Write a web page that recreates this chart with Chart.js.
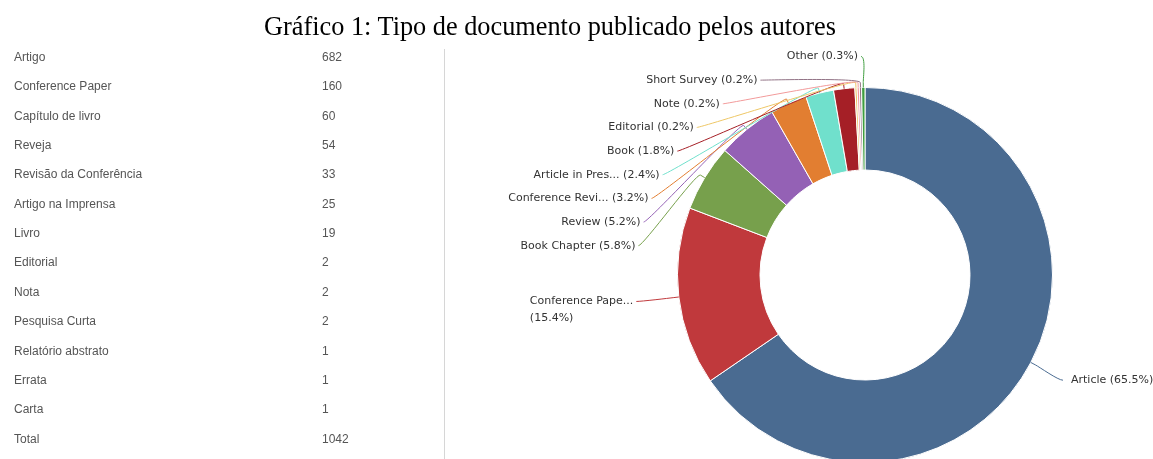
<!DOCTYPE html>
<html>
<head>
<meta charset="utf-8">
<script src="https://cdn.jsdelivr.net/npm/chart.js@4/dist/chart.umd.min.js"></script>
<style>
  html, body { margin: 0; padding: 0; background: #fff; }
  body { width: 1153px; height: 459px; overflow: hidden; position: relative; }
  #pie { position: absolute; left: 0; top: 0; }
  #title {
    position: absolute; left: 550px; top: 12px; transform: translateX(-50%);
    white-space: nowrap; color: #000;
    font: 26.3px/30px "Liberation Serif", "Times New Roman", serif;
  }
  .cell {
    position: absolute; white-space: nowrap; color: #555;
    font: 12px/16px "Liberation Sans", Arial, sans-serif;
  }
  #sep { position: absolute; left: 444px; top: 49px; width: 1px; height: 410px; background: #d6d6d6; }
</style>
</head>
<body>
<canvas id="pie" width="1153" height="470"></canvas>
<div id="title">Gráfico 1: Tipo de documento publicado pelos autores</div>
<div id="table"></div>
<div id="sep"></div>
<script>
// Document types (Portuguese table on the left)
const tableLabels = [
  'Artigo', 'Conference Paper', 'Capítulo de livro', 'Reveja', 'Revisão da Conferência',
  'Artigo na Imprensa', 'Livro', 'Editorial', 'Nota', 'Pesquisa Curta',
  'Relatório abstrato', 'Errata', 'Carta'
];
const tableCounts = [682, 160, 60, 54, 33, 25, 19, 2, 2, 2, 1, 1, 1];
const totalLabel = 'Total';

// Doughnut slices (English names, small types grouped as "Other")
const sliceLabels = [
  'Article', 'Conference Paper', 'Book Chapter', 'Review', 'Conference Review',
  'Article in Press', 'Book', 'Editorial', 'Note', 'Short Survey', 'Other'
];
const sliceValues = [682, 160, 60, 54, 33, 25, 19, 2, 2, 2, 3];
const sliceColors = [
  '#4a6b91', '#c0393c', '#77a04c', '#9461b5', '#e27e31',
  '#70e0cc', '#a51f26', '#eec766', '#f29a9a', '#927386', '#3f9d3f'
];

// ---- table ----
const ROW_Y0 = 57, ROW_STEP = 29.35;
const tableEl = document.getElementById('table');
const rows = tableLabels.map((l, i) => [l, tableCounts[i]]);
rows.push([totalLabel, tableCounts.reduce((a, b) => a + b, 0)]);
rows.forEach(([label, count], i) => {
  const top = ROW_Y0 + i * ROW_STEP - 8;
  const a = document.createElement('div');
  a.className = 'cell'; a.style.left = '14px'; a.style.top = top + 'px'; a.textContent = label;
  const b = document.createElement('div');
  b.className = 'cell'; b.style.left = '322px'; b.style.top = top + 'px'; b.textContent = count;
  tableEl.appendChild(a); tableEl.appendChild(b);
});

// ---- doughnut data labels with connectors ----
const LABEL_DISTANCE = 38;   // gap between ring and label circle
const LABEL_TOP = 56.5;      // highest allowed label centre
const LABEL_SPACING = 23.65; // minimum vertical distance between labels
const LABEL_Y_SHIFT = 7;     // label centre vs. point used on label circle
const LINE_H = 17;
const MAX_LABEL_W = 145;
const LABEL_FONT = '11px "DejaVu Sans", Verdana, sans-serif';

function shortName(name) {
  return name.length > 15 ? name.slice(0, 15) + '...' : name;
}

const calloutPlugin = {
  id: 'callouts',
  afterDatasetsDraw(chart) {
    const meta = chart.getDatasetMeta(0);
    const values = chart.data.datasets[0].data;
    const colors = chart.data.datasets[0].backgroundColor;
    const total = values.reduce((a, b) => a + b, 0);
    const ctx = chart.ctx;
    ctx.save();
    ctx.font = LABEL_FONT;
    ctx.textBaseline = 'middle';

    const items = meta.data.map((arc, i) => {
      const p = arc.getProps(['x', 'y', 'startAngle', 'endAngle', 'outerRadius'], true);
      const mid = (p.startAngle + p.endAngle) / 2;
      const R = p.outerRadius + LABEL_DISTANCE;
      return { i, p, mid, R, left: Math.cos(mid) < 0, y: p.y + R * Math.sin(mid) };
    });

    // keep labels on each side apart, pushing down from the top limit
    [true, false].forEach(side => {
      const group = items.filter(it => it.left === side).sort((a, b) => a.y - b.y);
      let prev = -Infinity;
      group.forEach(it => {
        it.y = Math.max(it.y, prev + LABEL_SPACING, LABEL_TOP);
        prev = it.y;
      });
    });

    items.forEach(it => {
      const { i, p, mid, R, left } = it;
      let dy = it.y - LABEL_Y_SHIFT - p.y;
      dy = Math.max(-R, Math.min(R, dy));
      const dx = Math.sqrt(R * R - dy * dy);
      const xe = p.x + (left ? -dx : dx);

      const pct = '(' + (values[i] / total * 100).toFixed(1) + '%)';
      const name = shortName(chart.data.labels[i]);
      let lines = [name + ' ' + pct];
      if (ctx.measureText(lines[0]).width > MAX_LABEL_W) lines = [name, pct];
      const w = Math.max(...lines.map(s => ctx.measureText(s).width));
      const boxLeft = left ? xe - 7 - w : xe + 3;

      // connector
      const sx = left ? xe - 4 : xe - 5;
      const cos = Math.cos(mid), sin = Math.sin(mid);
      const r0 = p.outerRadius;
      ctx.beginPath();
      ctx.moveTo(sx, it.y);
      ctx.bezierCurveTo(
        sx + (left ? 5 : -5), it.y,
        p.x + (r0 + 10) * cos, p.y + (r0 + 10) * sin,
        p.x + (r0 + 5) * cos, p.y + (r0 + 5) * sin
      );
      ctx.lineTo(p.x + r0 * cos, p.y + r0 * sin);
      ctx.strokeStyle = colors[i];
      ctx.lineWidth = 1;
      ctx.stroke();

      ctx.fillStyle = '#333';
      ctx.textAlign = 'left';
      lines.forEach((s, k) => ctx.fillText(s, boxLeft, it.y + k * LINE_H));
    });
    ctx.restore();
  }
};

new Chart(document.getElementById('pie'), {
  type: 'doughnut',
  data: {
    labels: sliceLabels,
    datasets: [{
      data: sliceValues,
      backgroundColor: sliceColors,
      borderColor: '#ffffff',
      borderWidth: 1,
      hoverOffset: 0
    }]
  },
  options: {
    responsive: false,
    animation: false,
    devicePixelRatio: 1,
    cutout: '56%',
    events: [],
    layout: { padding: { left: 677, right: 100, top: 87, bottom: 7 } },
    plugins: { legend: { display: false }, tooltip: { enabled: false } }
  },
  plugins: [calloutPlugin]
});
</script>
</body>
</html>
